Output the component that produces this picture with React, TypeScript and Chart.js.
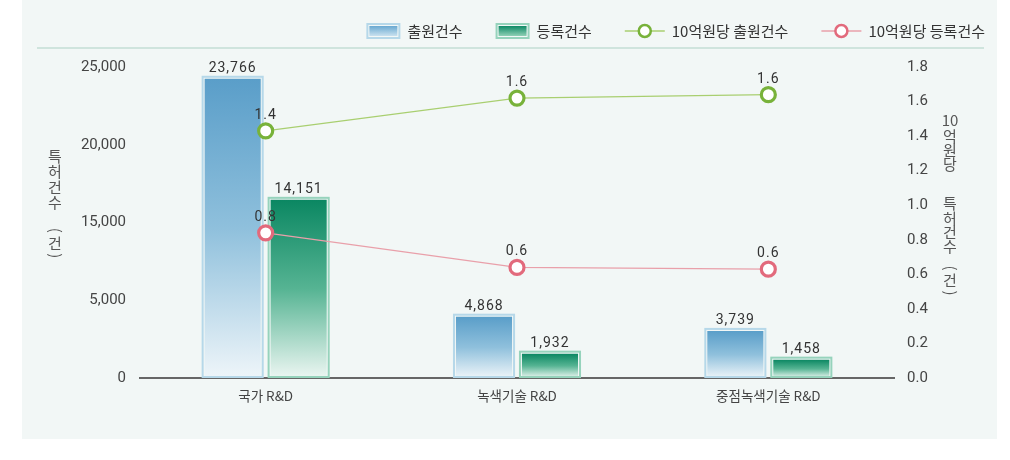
import React, { useEffect, useRef } from 'react';
import { Chart, registerables } from 'chart.js';

Chart.register(...registerables);

// ---------- data ----------
const CATEGORIES = ['국가 R&D', '녹색기술 R&D', '중점녹색기술 R&D'];
const SERIES_LABELS = ['출원건수', '등록건수', '10억원당 출원건수', '10억원당 등록건수'];
const APPLICATIONS = [23766, 4868, 3739];
const REGISTRATIONS = [14151, 1932, 1458];
const APPLICATIONS_PER_BILLION = [1.43, 1.62, 1.64];
const REGISTRATIONS_PER_BILLION = [0.84, 0.64, 0.63];
const LEFT_TICK_LABELS = ['0', '5,000', '15,000', '20,000', '25,000'];
const LEFT_TITLE = '특허건수 (건)';
const RIGHT_TITLE = '10억원당 특허건수 (건)';
const LEFT_MAX = 24700; // top of the (evenly spaced) left axis as drawn in the source
const RIGHT_MAX = 1.8;
const RIGHT_STEP = 0.2;

// ---------- styles ----------
const FONT_KR = '"Noto Sans CJK KR", "Noto Sans", sans-serif';
const FONT_NUM = 'Roboto, "Noto Sans", sans-serif';
const BAR_GRADIENTS = [
  ['#5a9ec9', '#8fc0dc', '#eef5f9'],
  ['#0b8762', '#56b493', '#ecf6f2'],
];
const BAR_OUTLINES = ['#b6d8e9', '#96d3bc'];
const LEGEND_BOX_GRADIENTS = [
  ['#6aa9d1', '#c9e1ef'],
  ['#0f8a66', '#8fd0b5'],
];
const LINE_COLORS = ['#a9cf70', '#e9a0aa'];
const POINT_COLORS = ['#78b23a', '#e26a7c'];

const fmtThousands = (v: number) => String(v).replace(/\B(?=(\d{3})+(?!\d))/g, ',');

function drawStacked(
  ctx: CanvasRenderingContext2D,
  text: string,
  x: number,
  firstCenter: number,
  a: number,
  digitH: number,
  p: number,
  gaps: number[],
) {
  const tokens = text.match(/\d+|\s|./g) || [];
  let y = firstCenter;
  let prevH = -1;
  let gapIdx = 0;
  let pendingGap = 0;
  for (const t of tokens) {
    if (/\s/.test(t)) {
      pendingGap += gaps[gapIdx++] || 0;
      continue;
    }
    const isParen = t === '(' || t === ')';
    const h = /\d/.test(t) ? digitH : isParen ? p : a;
    if (prevH >= 0) y += prevH / 2 + pendingGap + h / 2;
    pendingGap = 0;
    if (isParen) {
      // rotate the parenthesis so it reads as a vertical-form bracket, centred on its ink box
      ctx.save();
      ctx.textAlign = 'left';
      ctx.textBaseline = 'alphabetic';
      const m = ctx.measureText(t);
      const cx = (m.actualBoundingBoxRight - m.actualBoundingBoxLeft) / 2;
      const cy = (m.actualBoundingBoxDescent - m.actualBoundingBoxAscent) / 2;
      ctx.translate(x, y);
      ctx.rotate(Math.PI / 2);
      ctx.fillText(t, -cx, -cy);
      ctx.restore();
    } else {
      ctx.textAlign = 'center';
      ctx.textBaseline = 'middle';
      ctx.fillText(t, x, y);
    }
    prevH = h;
  }
}

const barOutlinePlugin = {
  id: 'barOutline',
  afterDatasetDraw(chart: any, args: any) {
    const meta = args.meta;
    if (meta.type !== 'bar') return;
    const ctx = chart.ctx;
    ctx.save();
    ctx.strokeStyle = BAR_OUTLINES[args.index] || '#ccc';
    ctx.lineWidth = 2;
    meta.data.forEach((el: any) => {
      const { x, y, base, width } = el.getProps(['x', 'y', 'base', 'width'], true);
      ctx.strokeRect(x - width / 2 - 2, y - 2, width + 4, base - y + 1);
    });
    ctx.restore();
  },
};

const labelsPlugin = {
  id: 'valueLabels',
  afterDatasetsDraw(chart: any) {
    const ctx = chart.ctx;
    ctx.save();
    ctx.font = `14px ${FONT_NUM}`;
    (ctx as any).letterSpacing = '1px';
    ctx.fillStyle = '#333';
    ctx.textAlign = 'center';
    ctx.textBaseline = 'alphabetic';
    chart.data.datasets.forEach((ds: any, di: number) => {
      const meta = chart.getDatasetMeta(di);
      meta.data.forEach((el: any, i: number) => {
        const v = ds.data[i];
        const { x, y } = el.getProps(['x', 'y'], true);
        if (meta.type === 'bar') {
          ctx.fillText(fmtThousands(v), x, y - 7);
        } else {
          ctx.fillText(v.toFixed(1), x, y - 12);
        }
      });
    });
    ctx.restore();
  },
};

const decorPlugin = {
  id: 'decor',
  afterDraw(chart: any) {
    const ctx: CanvasRenderingContext2D = chart.ctx;
    ctx.save();
    // separator under legend
    ctx.strokeStyle = '#cfe4dd';
    ctx.lineWidth = 2;
    ctx.beginPath();
    ctx.moveTo(37, 48);
    ctx.lineTo(984, 48);
    ctx.stroke();

    // legend
    ctx.font = `15px ${FONT_KR}`;
    ctx.textBaseline = 'middle';
    ctx.textAlign = 'left';
    const items = chart.data.datasets.map((ds: any, i: number) => ({
      label: ds.label,
      type: chart.getDatasetMeta(i).type,
      i,
    }));
    const iconW = (t: string) => (t === 'bar' ? 34 : 40);
    const widths = items.map((it: any) => iconW(it.type) + 7 + ctx.measureText(it.label).width);
    const itemGap = 33;
    const total = widths.reduce((s: number, w: number) => s + w, 0) + itemGap * (items.length - 1);
    let x = 985 - total;
    const ly = 31;
    items.forEach((it: any, k: number) => {
      if (it.type === 'bar') {
        const gc = LEGEND_BOX_GRADIENTS[it.i];
        ctx.strokeStyle = BAR_OUTLINES[it.i];
        ctx.lineWidth = 2;
        ctx.strokeRect(x + 1, ly - 7, 32, 14);
        const g = ctx.createLinearGradient(0, ly - 5, 0, ly + 5);
        g.addColorStop(0, gc[0]);
        g.addColorStop(1, gc[1]);
        ctx.fillStyle = g;
        ctx.fillRect(x + 3, ly - 5, 28, 10);
      } else {
        const li = it.i - 2;
        ctx.strokeStyle = LINE_COLORS[li];
        ctx.lineWidth = 1.5;
        ctx.beginPath();
        ctx.moveTo(x, ly);
        ctx.lineTo(x + 40, ly);
        ctx.stroke();
        ctx.beginPath();
        ctx.arc(x + 20, ly, 6, 0, Math.PI * 2);
        ctx.fillStyle = '#fff';
        ctx.fill();
        ctx.strokeStyle = POINT_COLORS[li];
        ctx.lineWidth = 2.5;
        ctx.stroke();
      }
      ctx.fillStyle = '#333';
      ctx.fillText(it.label, x + iconW(it.type) + 7, ly + 0.5);
      x += widths[k] + itemGap;
    });

    // axis titles (stacked upright characters)
    ctx.fillStyle = '#555';
    ctx.font = `15px ${FONT_KR}`;
    drawStacked(ctx, LEFT_TITLE, 55, 156, 15.5, 18, 9, [16]);
    drawStacked(ctx, RIGHT_TITLE, 950, 120, 14.2, 18, 10, [25, 10]);
    ctx.restore();
  },
};

function barGradient(dsIndex: number) {
  return (c: any) => {
    const chart = c.chart;
    const { ctx, chartArea, scales } = chart;
    const stops = BAR_GRADIENTS[dsIndex];
    if (!chartArea || !scales || !scales.y || c.raw == null) return stops[0];
    const top = scales.y.getPixelForValue(c.raw);
    const bottom = scales.y.getPixelForValue(0);
    const g = ctx.createLinearGradient(0, top, 0, bottom);
    g.addColorStop(0, stops[0]);
    g.addColorStop(0.5, stops[1]);
    g.addColorStop(1, stops[2]);
    return g;
  };
}

export default function App() {
  const canvasRef = useRef<HTMLCanvasElement | null>(null);

  useEffect(() => {
    const canvas = canvasRef.current;
    if (!canvas) return;
    const leftStep = LEFT_MAX / (LEFT_TICK_LABELS.length - 1);
    const chart = new Chart(canvas, {
      type: 'bar',
      data: {
        labels: CATEGORIES,
        datasets: [
          {
            type: 'bar',
            label: SERIES_LABELS[0],
            data: APPLICATIONS,
            yAxisID: 'y',
            order: 2,
            backgroundColor: barGradient(0),
            borderWidth: 0,
            categoryPercentage: 0.525,
            barPercentage: 0.85,
          },
          {
            type: 'bar',
            label: SERIES_LABELS[1],
            data: REGISTRATIONS,
            yAxisID: 'y',
            order: 2,
            backgroundColor: barGradient(1),
            borderWidth: 0,
            categoryPercentage: 0.525,
            barPercentage: 0.85,
          },
          {
            type: 'line',
            label: SERIES_LABELS[2],
            data: APPLICATIONS_PER_BILLION,
            yAxisID: 'y1',
            order: 0,
            borderColor: LINE_COLORS[0],
            borderWidth: 1.2,
            tension: 0,
            pointRadius: 7,
            pointBorderWidth: 3.2,
            pointBackgroundColor: '#fff',
            pointBorderColor: POINT_COLORS[0],
          },
          {
            type: 'line',
            label: SERIES_LABELS[3],
            data: REGISTRATIONS_PER_BILLION,
            yAxisID: 'y1',
            order: 0,
            borderColor: LINE_COLORS[1],
            borderWidth: 1.2,
            tension: 0,
            pointRadius: 7,
            pointBorderWidth: 3.2,
            pointBackgroundColor: '#fff',
            pointBorderColor: POINT_COLORS[1],
          },
        ] as any,
      },
      options: {
        responsive: false,
        animation: false,
        devicePixelRatio: 1,
        layout: { padding: { top: 67, left: 0, right: 0, bottom: 0 } },
        plugins: {
          legend: { display: false },
          tooltip: { enabled: false },
          title: { display: false },
        },
        scales: {
          x: {
            type: 'category',
            offset: true,
            grid: { display: false, drawTicks: false },
            border: { display: true, color: '#666', width: 2 },
            ticks: {
              color: '#444',
              font: { family: FONT_KR, size: 13.5 },
              padding: 10,
              maxRotation: 0,
            },
            afterFit: (s: any) => {
              s.height = 82;
            },
          },
          y: {
            type: 'linear',
            position: 'left',
            min: 0,
            max: LEFT_MAX,
            grid: { display: false, drawTicks: false },
            border: { display: false },
            ticks: {
              color: '#444',
              font: { family: FONT_NUM, size: 15 },
              padding: 14,
              callback: (_v: any, i: number) => LEFT_TICK_LABELS[i],
            },
            afterBuildTicks: (s: any) => {
              s.ticks = LEFT_TICK_LABELS.map((_, i) => ({ value: leftStep * i }));
            },
            afterFit: (s: any) => {
              s.width = 140;
            },
          },
          y1: {
            type: 'linear',
            position: 'right',
            min: 0,
            max: RIGHT_MAX,
            grid: { display: false, drawTicks: false },
            border: { display: false },
            ticks: {
              stepSize: RIGHT_STEP,
              color: '#444',
              font: { family: FONT_NUM, size: 15 },
              padding: 13,
              callback: (v: any) => Number(v).toFixed(1),
            },
            afterFit: (s: any) => {
              s.width = 116;
            },
          },
        },
      } as any,
      plugins: [barOutlinePlugin, labelsPlugin, decorPlugin],
    });
    return () => chart.destroy();
  }, []);

  return (
    <div style={{ position: 'absolute', left: 0, top: 0, width: 1010, height: 460, background: '#fff' }}>
      <div
        style={{
          position: 'absolute',
          left: 22,
          top: 0,
          width: 975,
          height: 439,
          background: '#f2f7f6',
        }}
      />
      <canvas
        ref={canvasRef}
        width={1010}
        height={460}
        style={{ position: 'absolute', left: 0, top: 0, width: 1010, height: 460 }}
      />
    </div>
  );
}
